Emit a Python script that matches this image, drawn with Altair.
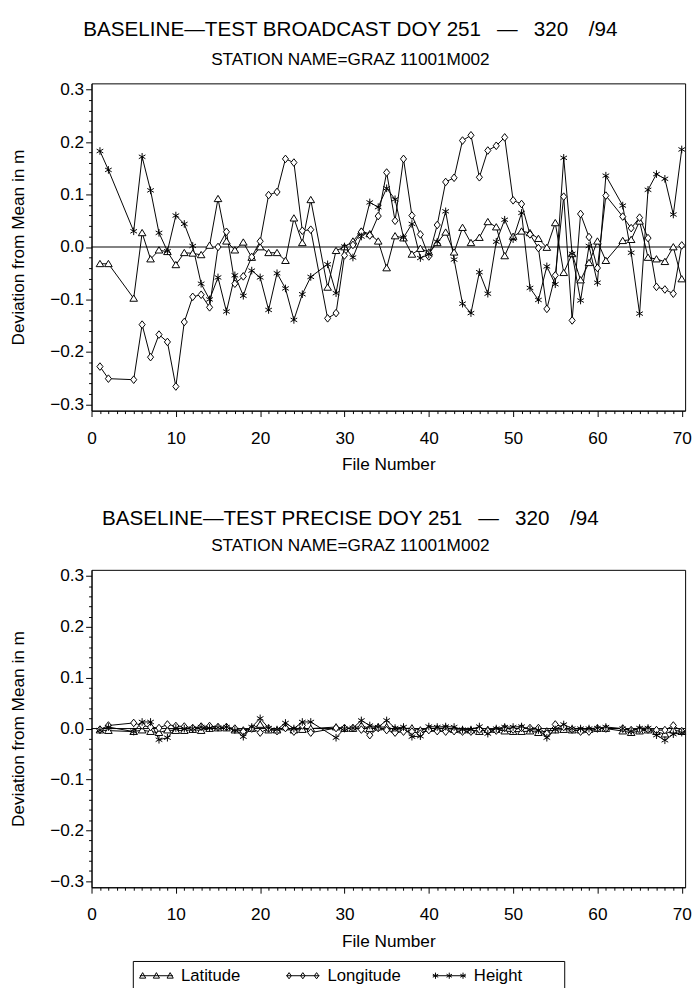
import altair as alt
import pandas as pd

FONT = "Liberation Sans"
SERIES = ["Latitude", "Longitude", "Height"]

TITLE_TOP = "BASELINE\u2014TEST BROADCAST DOY 251\u2002 \u2014 \u2002320\u2002\u2002/94"
TITLE_BOT = "BASELINE\u2014TEST PRECISE DOY 251\u2002 \u2014 \u2002320\u2002\u2002/94"
SUBTITLE = "STATION NAME=GRAZ 11001M002"

# ---------------- broadcast orbit panel ----------------
FILES_BROADCAST = [1, 2, 5, 6, 7, 8, 9, 10, 11, 12,
                   13, 14, 15, 16, 17, 18, 19, 20, 21, 22,
                   23, 24, 25, 26,
                   28, 29, 30, 31, 32, 33, 34, 35, 36, 37,
                   38, 39, 40, 41, 42, 43, 44, 45, 46, 47,
                   48, 49, 50, 51, 52, 53, 54, 55, 56, 57,
                   58, 59, 60, 61,
                   63, 64, 65, 66, 67, 68, 69, 70]
LAT_BROADCAST = [-0.032, -0.032, -0.098, 0.027, -0.023, -0.006, -0.009, -0.034, -0.011, -0.012,
                 -0.015, 0.003, 0.092, 0.011, -0.006, 0.009, -0.020, 0.000, -0.011, -0.011,
                 -0.026, 0.055, 0.008, 0.090,
                 -0.077, -0.007, 0.000, 0.011, 0.030, 0.025, 0.011, -0.040, 0.021, 0.017,
                 -0.014, -0.003, -0.010, 0.008, 0.028, -0.010, 0.037, 0.008, 0.018, 0.048,
                 0.038, -0.017, 0.020, 0.030, 0.027, 0.016, -0.001, 0.046, -0.049, -0.013,
                 -0.063, -0.030, 0.011, -0.026,
                 0.012, 0.014, 0.049, -0.020, -0.023, -0.028, 0.000, -0.061]
LON_BROADCAST = [-0.228, -0.251, -0.253, -0.148, -0.210, -0.167, -0.181, -0.266, -0.143, -0.095,
                 -0.091, -0.115, 0.000, 0.029, -0.070, -0.056, -0.019, 0.011, 0.099, 0.105,
                 0.168, 0.161, 0.031, 0.033,
                 -0.136, -0.126, -0.016, 0.004, 0.029, 0.022, 0.059, 0.142, 0.050, 0.168,
                 0.060, 0.024, -0.018, 0.042, 0.124, 0.132, 0.203, 0.213, 0.133, 0.184,
                 0.193, 0.209, 0.089, 0.082, 0.024, -0.002, -0.118, -0.054, 0.096, -0.140,
                 0.063, 0.019, -0.040, 0.098,
                 0.058, 0.036, 0.056, 0.017, -0.076, -0.081, -0.089, 0.003]
HGT_BROADCAST = [0.183, 0.147, 0.030, 0.172, 0.108, 0.027, -0.008, 0.060, 0.044, 0.002,
                 -0.070, -0.100, -0.058, -0.123, -0.054, -0.093, -0.045, -0.058, -0.120, -0.050,
                 -0.079, -0.139, -0.090, -0.057,
                 -0.033, -0.088, 0.001, -0.020, 0.020, 0.085, 0.076, 0.112, 0.091, 0.018,
                 0.044, -0.021, -0.014, 0.010, 0.068, -0.024, -0.108, -0.126, -0.048, -0.089,
                 0.010, 0.052, 0.015, 0.065, -0.078, -0.101, -0.037, -0.071, 0.170, -0.013,
                 -0.102, 0.002, -0.068, 0.136,
                 0.079, -0.011, -0.127, 0.109, 0.139, 0.130, 0.062, 0.186]

# ---------------- precise orbit panel ----------------
FILES_PRECISE = [1, 2, 5, 6, 7, 8, 9, 10, 11, 12,
                 13, 14, 15, 16, 17, 18, 19, 20, 21, 22,
                 23, 24, 25, 26,
                 29, 30, 31, 32, 33, 34, 35, 36, 37, 38,
                 39, 40, 41, 42, 43, 44, 45, 46, 47, 48,
                 49, 50, 51, 52, 53, 54, 55, 56, 57, 58,
                 59, 60, 61,
                 63, 64, 65, 66, 67, 68, 69, 70]
LAT_PRECISE = [-0.003, -0.004, -0.006, -0.003, -0.006, -0.008, -0.003, -0.004, -0.004, -0.002,
               -0.004, 0.000, 0.001, 0.001, -0.003, -0.003, 0.000, 0.008, -0.003, -0.003,
               0.003, -0.003, -0.002, 0.000,
               0.003, 0.000, 0.000, 0.006, 0.000, 0.003, 0.003, -0.002, 0.000, 0.001,
               -0.003, 0.000, 0.000, 0.001, -0.002, -0.003, -0.003, -0.006, -0.002, -0.002,
               -0.005, -0.006, -0.006, -0.005, -0.008, -0.005, -0.003, -0.002, -0.003, -0.003,
               -0.002, 0.000, 0.000,
               -0.005, -0.008, -0.005, -0.003, -0.006, -0.011, -0.003, -0.006]
LON_PRECISE = [-0.002, 0.006, 0.011, 0.006, 0.003, 0.001, 0.008, 0.005, 0.004, 0.001,
               0.004, 0.005, 0.003, 0.003, 0.000, -0.006, 0.000, -0.008, 0.000, -0.005,
               0.001, -0.006, 0.006, -0.008,
               0.001, 0.001, 0.001, -0.002, -0.013, 0.001, -0.003, -0.008, -0.006, -0.006,
               -0.010, -0.003, -0.005, -0.006, -0.005, -0.006, -0.006, -0.002, -0.005, -0.004,
               0.001, -0.002, 0.001, 0.001, 0.001, -0.010, 0.008, 0.003, -0.002, -0.006,
               -0.006, 0.000, 0.000,
               0.000, -0.003, -0.002, -0.002, -0.003, -0.003, 0.006, -0.005]
HGT_PRECISE = [-0.003, 0.003, -0.006, 0.013, 0.013, -0.022, -0.018, 0.001, 0.000, 0.000,
               0.003, 0.001, 0.002, 0.003, -0.003, -0.016, 0.003, 0.020, 0.001, -0.002,
               0.011, 0.000, 0.013, 0.013,
               -0.018, 0.000, 0.001, 0.016, 0.006, 0.003, 0.016, 0.001, 0.003, -0.016,
               -0.015, 0.004, 0.003, 0.004, 0.003, -0.002, -0.002, 0.004, -0.010, 0.000,
               0.003, 0.003, 0.004, -0.002, -0.003, -0.018, -0.002, 0.008, 0.000, 0.000,
               0.000, 0.001, 0.003,
               0.000, -0.005, 0.001, 0.001, -0.013, -0.023, -0.011, -0.008]

X_TICKS = list(range(0, 71))
Y_TICKS = [-0.30, -0.28, -0.26, -0.24, -0.22, -0.20, -0.18, -0.16, -0.14, -0.12,
           -0.10, -0.08, -0.06, -0.04, -0.02, 0.00, 0.02, 0.04, 0.06, 0.08,
           0.10, 0.12, 0.14, 0.16, 0.18, 0.20, 0.22, 0.24, 0.26, 0.28, 0.30]
ZERO = [0.0]

# marker shapes
SHAPE_TRI = "M0,-0.9L1,0.75L-1,0.75Z"
SHAPE_DIA = "M0,-1L0.8,0L0,1L-0.8,0Z"
SHAPE_STAR = "M0,-1L0,1M-0.87,-0.5L0.87,0.5M-0.87,0.5L0.87,-0.5"
POINT_SHAPES = [SHAPE_TRI, SHAPE_DIA, SHAPE_STAR]

# legend keys: three small markers joined by a line
LEG_TRI = ("M-2.4,0 L2.4,0 "
           "M-2,-0.45 L-1.55,0.35 L-2.45,0.35 Z "
           "M0,-0.45 L0.45,0.35 L-0.45,0.35 Z "
           "M2,-0.45 L2.45,0.35 L1.55,0.35 Z ")
LEG_DIA = ("M-2.4,0 L2.4,0 "
           "M-2,-0.45 L-1.68,0 L-2,0.45 L-2.32,0 Z "
           "M0,-0.45 L0.32,0 L0,0.45 L-0.32,0 Z "
           "M2,-0.45 L2.32,0 L2,0.45 L1.68,0 Z ")
LEG_STAR = ("M-2.4,0 L2.4,0 "
            "M-2,-0.45 L-2,0.45 M-2.39,-0.22 L-1.61,0.22 M-2.39,0.22 L-1.61,-0.22 "
            "M0,-0.45 L0,0.45 M-0.39,-0.22 L0.39,0.22 M-0.39,0.22 L0.39,-0.22 "
            "M2,-0.45 L2,0.45 M1.61,-0.22 L2.39,0.22 M1.61,0.22 L2.39,-0.22")
LEGEND_SHAPES = [LEG_TRI, LEG_DIA, LEG_STAR]


def long_frame(files, lat, lon, hgt):
    rows = []
    for name, vals in zip(SERIES, (lat, lon, hgt)):
        assert len(vals) == len(files), (name, len(vals), len(files))
        for f, v in zip(files, vals):
            rows.append({"file": f, "series": name, "value": v})
    return pd.DataFrame(rows)


x_enc = alt.X(
    "file:Q",
    scale=alt.Scale(domain=[0, 70.4], nice=False, zero=False),
    axis=alt.Axis(
        values=X_TICKS,
        labelExpr="datum.value % 10 == 0 ? datum.label : ''",
        tickSize={"condition": {"test": "datum.value % 10 == 0", "value": 6}, "value": 3},
        title="File Number",
        labelOverlap=False,
        labelFlush=False,
        labelPadding=13,
        titlePadding=9.5,
        grid=False,
    ),
)
y_enc = alt.Y(
    "value:Q",
    scale=alt.Scale(domain=[-0.312, 0.312], nice=False, zero=False),
    axis=alt.Axis(
        values=Y_TICKS,
        labelExpr="abs(datum.value * 10 - round(datum.value * 10)) < 0.001 ? format(datum.value, '.1f') : ''",
        tickSize={"condition": {"test": "abs(datum.value * 10 - round(datum.value * 10)) < 0.001",
                                "value": 6}, "value": 3},
        title="Deviation from Mean in m",
        labelOverlap=False,
        labelFlush=False,
        labelPadding=2,
        titlePadding=23,
        grid=False,
    ),
)


def panel(df, title, height, sub_pad, offset):
    rule = alt.Chart(pd.DataFrame({"value": ZERO})).mark_rule(
        color="black", strokeWidth=1
    ).encode(y=y_enc)
    lines = alt.Chart(df).mark_line(color="black", strokeWidth=1).encode(
        x=x_enc, y=y_enc, detail="series:N", order="file:Q"
    )
    layers = [rule, lines]
    for name, shp in zip(SERIES, POINT_SHAPES):
        layers.append(
            alt.Chart(df)
            .transform_filter(alt.datum.series == name)
            .mark_point(shape=shp, size=60, filled=False, fill="white",
                        stroke="black", strokeWidth=1, opacity=1)
            .encode(x=x_enc, y=y_enc)
        )
    return alt.layer(*layers).properties(
        width=604,
        height=height,
        title=alt.TitleParams(
            text=title,
            subtitle=SUBTITLE,
            font=FONT,
            fontSize=21,
            fontWeight="normal",
            color="black",
            subtitleFont=FONT,
            subtitleFontSize=17.5,
            subtitleColor="black",
            subtitlePadding=sub_pad,
            anchor="middle",
            frame="bounds",
            offset=offset,
        ),
    )


top = panel(long_frame(FILES_BROADCAST, LAT_BROADCAST, LON_BROADCAST, HGT_BROADCAST),
            TITLE_TOP, 333, 11.5, 13)
bottom = panel(long_frame(FILES_PRECISE, LAT_PRECISE, LON_PRECISE, HGT_PRECISE),
               TITLE_BOT, 323, 8.4, 12.5)

# ---------------- boxed legend below the panels ----------------
legend_df = pd.DataFrame({"series": SERIES})
slot_x = alt.X(
    "series:N",
    scale=alt.Scale(type="point", domain=SERIES, range=[0, 298], padding=0),
    axis=None,
)
legend_keys = alt.Chart(legend_df).mark_point(
    size=196, filled=False, fill="white", stroke="black", strokeWidth=1,
    opacity=1, xOffset=24,
).encode(
    x=slot_x,
    shape=alt.Shape("series:N", scale=alt.Scale(domain=SERIES, range=LEGEND_SHAPES),
                    legend=None),
)
legend_text = alt.Chart(legend_df).mark_text(
    align="left", baseline="middle", dx=49, font=FONT, fontSize=17, color="black"
).encode(x=slot_x, text="series:N")
legend_box = alt.layer(legend_keys, legend_text).properties(width=439, height=30)

# blank spacer that shifts the legend box to the right
spacer = (
    alt.Chart(pd.DataFrame({"series": SERIES}))
    .mark_point(opacity=0, size=0)
    .encode(x=alt.X("series:N", axis=None), y=alt.value(0))
    .properties(width=40, height=30, view=alt.ViewBackground(stroke="transparent"))
)

chart = (
    alt.vconcat(
        alt.vconcat(top, bottom, spacing=35),
        alt.hconcat(spacer, legend_box, spacing=0),
        spacing=10,
    )
    .properties(padding={"left": 0, "top": 1, "right": 0, "bottom": 0}, background="white")
    .configure_view(stroke="black", strokeWidth=1)
    .configure_axis(
        labelFont=FONT,
        titleFont=FONT,
        labelFontSize=17.5,
        titleFontSize=17.5,
        titleFontWeight="normal",
        labelColor="black",
        titleColor="black",
        domainColor="black",
        tickColor="black",
        domainWidth=1,
        tickWidth=1,
    )
)

chart.save("out.html", embed_options={"renderer": "svg", "actions": False})
